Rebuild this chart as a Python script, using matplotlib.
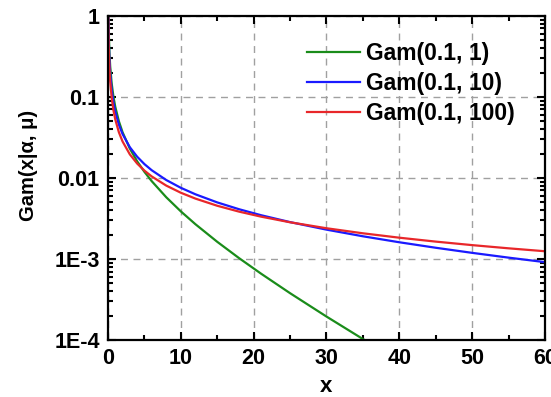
import matplotlib
matplotlib.use("Agg")
import matplotlib.pyplot as plt
from matplotlib.ticker import FixedLocator, MultipleLocator, LogLocator, NullFormatter

plt.rcParams['font.family'] = ['Liberation Sans', 'DejaVu Sans']
plt.rcParams['font.weight'] = 'bold'

# Gamma densities with shape 0.1 and mean 1, 10, 100
x = [0.02, 0.05, 0.1, 0.2, 0.3, 0.5, 0.75, 1, 1.5, 2, 3, 4, 5, 6, 8, 10, 12, 15,
     18, 21, 25, 30, 35, 40, 45, 50, 55, 60]

gam_mu1 = [2.817, 1.2315, 0.65662, 0.34837, 0.23945, 0.14821, 0.10035, 0.075549,
           0.049892, 0.036633, 0.023012, 0.016073, 0.011897, 0.0091356, 0.0057739,
           0.0038669, 0.0026868, 0.0016283, 0.0010237, 0.00066015, 0.00037823,
           0.00019470, 0.00010279, 0.000055290]
gam_mu10 = [2.2423, 0.98260, 0.52629, 0.28175, 0.19541, 0.12314, 0.085278, 0.065662,
            0.045358, 0.034837, 0.023946, 0.018299, 0.014820, 0.012453, 0.0094222,
            0.0075549, 0.0062846, 0.0049891, 0.0041091, 0.0034710, 0.0028505,
            0.0023012, 0.0019054, 0.0016073, 0.0013751, 0.0011897, 0.0010386,
            0.00091356]
gam_mu100 = [1.781, 0.78087, 0.41843, 0.22421, 0.15564, 0.098261, 0.068199, 0.052629,
             0.036520, 0.028176, 0.019541, 0.015069, 0.012314, 0.010440, 0.0080432,
             0.0065663, 0.0055614, 0.0045358, 0.0038380, 0.0033308, 0.0028356,
             0.0023946, 0.0020739, 0.0018300, 0.0016376, 0.0014821, 0.0013534,
             0.0012453]

labels = ['Gam(0.1, 1)', 'Gam(0.1, 10)', 'Gam(0.1, 100)']
colors = ['#1a8c1a', '#1a1aff', '#e8272a']

y_ticks = [1e-4, 1e-3, 1e-2, 1e-1, 1]
y_ticklabels = ['1E-4', '1E-3', '0.01', '0.1', '1']
x_ticks = [0, 10, 20, 30, 40, 50, 60]

fig = plt.figure(figsize=(5.51, 3.97), dpi=100)
ax = fig.add_axes([0.196, 0.1436, 0.793, 0.8164])

ax.plot(x[:len(gam_mu1)], gam_mu1, color=colors[0], lw=1.6, label=labels[0])
ax.plot(x, gam_mu10, color=colors[1], lw=1.6, label=labels[1])
ax.plot(x, gam_mu100, color=colors[2], lw=1.6, label=labels[2])

ax.set_yscale('log')
ax.set_xlim(0, 60)
ax.set_ylim(1e-4, 1)

ax.xaxis.set_major_locator(FixedLocator(x_ticks))
ax.xaxis.set_minor_locator(MultipleLocator(5))
ax.set_xticklabels([str(v) for v in x_ticks])
ax.yaxis.set_major_locator(FixedLocator(y_ticks))
ax.set_yticklabels(y_ticklabels)
ax.yaxis.set_minor_locator(LogLocator(base=10, subs=range(2, 10)))
ax.yaxis.set_minor_formatter(NullFormatter())

ax.grid(True, which='major', color='#a0a0a0', ls=(0, (5, 4)), lw=1.0)

ax.tick_params(which='both', direction='in', top=True, right=True,
               labelsize=15.5, width=1.5, pad=6)
ax.tick_params(which='major', length=6)
ax.tick_params(which='minor', length=3.5)
for lab in ax.get_xticklabels() + ax.get_yticklabels():
    lab.set_fontweight('bold')
for sp in ax.spines.values():
    sp.set_linewidth(1.6)

ax.set_xlabel('x', fontsize=16, fontweight='bold', labelpad=5)
ax.set_ylabel('Gam(x|α, μ)', fontsize=14.5, fontweight='bold')
ax.yaxis.set_label_coords(-0.16, 0.54)

leg = ax.legend(loc='upper left', bbox_to_anchor=(0.557, 0.895),
                bbox_transform=fig.transFigure, frameon=False,
                prop={'size': 16.5, 'weight': 'bold'}, handlelength=2.3,
                handletextpad=0.3, labelspacing=0.32, borderpad=0, borderaxespad=0)

fig.savefig('out.png', dpi=100)
